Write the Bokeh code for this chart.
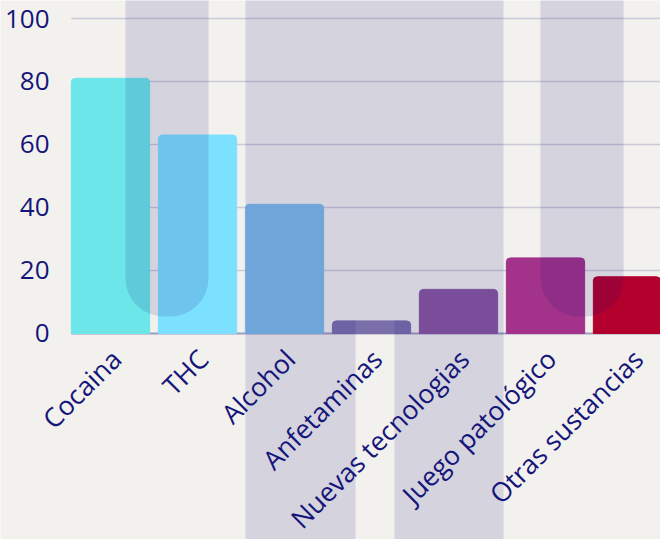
import math
from bokeh.plotting import figure
from bokeh.models import Range1d, FixedTicker
from bokeh.core.properties import value
from bokeh.embed import file_html
from bokeh.resources import INLINE

# ---- data ----
categories = ["Cocaina", "THC", "Alcohol", "Anfetaminas",
              "Nuevas tecnologias", "Juego patológico", "Otras sustancias"]
values = [81, 63, 41, 4, 14, 24, 18]
bar_colors = ["#6ce6e8", "#7ce0ff", "#7ebce6", "#7b6fab",
              "#8b579f", "#a3338a", "#b3002c"]
y_ticks = [0, 20, 40, 60, 80, 100]

# ---- style ----
BG = "#f2f1ed"
NAVY = "#15157a"
OVERLAY = "#0a0575"
FONT = "Open Sans"

xpos = list(range(len(categories)))
X_LEFT, X_RIGHT = -1.2644, 6.3218
Y_BOTTOM, Y_TOP = -65.40, 105.71
AXIS_X = -0.494          # where the value axis sits
GRID_X0 = -0.45          # where grid lines start

p = figure(width=660, height=539,
           x_range=Range1d(X_LEFT, X_RIGHT), y_range=Range1d(Y_BOTTOM, Y_TOP),
           output_backend="svg", toolbar_location=None,
           min_border_left=0, min_border_right=0,
           min_border_top=0, min_border_bottom=0)
p.background_fill_color = BG
p.border_fill_color = BG
p.outline_line_color = None
p.xgrid.visible = False
p.ygrid.visible = False
p.xaxis.visible = False

# grid lines
grid_y = [t for t in y_ticks if t != 0]
p.segment(x0=[GRID_X0] * len(grid_y), x1=[X_RIGHT + 1] * len(grid_y),
          y0=grid_y, y1=grid_y, line_color=OVERLAY, line_alpha=0.17,
          line_width=1.5)
p.segment(x0=[GRID_X0], x1=[X_RIGHT + 1], y0=[0], y1=[0],
          line_color="#9f9bbf", line_width=2)

# y axis, inside the frame
p.yaxis.fixed_location = AXIS_X
p.yaxis.ticker = FixedTicker(ticks=y_ticks)
p.yaxis.axis_line_color = None
p.yaxis.major_tick_line_color = None
p.yaxis.minor_tick_line_color = None
p.yaxis.major_label_text_font = FONT
p.yaxis.major_label_text_font_size = "26px"
p.yaxis.major_label_text_color = NAVY
p.yaxis.major_label_standoff = 12

# bars
p.vbar(x=xpos, top=values, width=0.9, color=bar_colors,
       border_radius=(4, 4, 0, 0))

# decorative translucent shapes (over the bars)
U_SHAPES = [(0.1724, 1.1264), (4.9425, 5.8966)]
U_BOTTOM = 5.4
for l, r in U_SHAPES:
    p.quad(left=l, right=r, top=200, bottom=U_BOTTOM,
           fill_color=OVERLAY, fill_alpha=0.125, line_color=None,
           border_radius=(0, 0, 38, 38))

PI_L, PI_R, GAP_L, GAP_R, GAP_TOP = 1.5517, 4.5172, 2.8161, 3.2644, 4.13
p.patch(x=[PI_L, PI_R, PI_R, GAP_R, GAP_R, GAP_L, GAP_L, PI_L],
        y=[200, 200, -200, -200, GAP_TOP, GAP_TOP, -200, -200],
        fill_color=OVERLAY, fill_alpha=0.125, line_color=None)

# category labels (on top)
p.text(x=xpos, y=[0] * len(xpos), text=categories, angle=math.pi / 4,
       text_align="right", text_baseline="top",
       x_offset=-7, y_offset=8,
       text_font=value(FONT), text_font_size=value("26.5px"),
       text_color=NAVY)

open("out.html", "w").write(file_html(p, INLINE))
